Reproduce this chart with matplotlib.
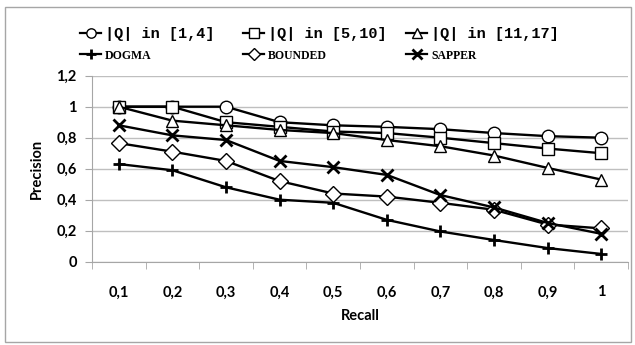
import matplotlib
matplotlib.use("Agg")
import matplotlib.pyplot as plt
from matplotlib.patches import Rectangle
from matplotlib.ticker import FixedLocator, FuncFormatter

recall = ["0,1", "0,2", "0,3", "0,4", "0,5", "0,6", "0,7", "0,8", "0,9", "1"]

q_1_4 = [1.0, 1.0, 1.0, 0.90, 0.88, 0.87, 0.855, 0.83, 0.81, 0.80]
q_5_10 = [1.0, 1.0, 0.90, 0.87, 0.84, 0.83, 0.80, 0.765, 0.73, 0.70]
q_11_17 = [1.0, 0.91, 0.88, 0.85, 0.83, 0.785, 0.745, 0.685, 0.605, 0.53]
dogma = [0.63, 0.59, 0.48, 0.40, 0.38, 0.27, 0.195, 0.14, 0.088, 0.05]
bounded = [0.765, 0.71, 0.65, 0.52, 0.44, 0.42, 0.38, 0.335, 0.24, 0.215]
sapper = [0.88, 0.815, 0.785, 0.65, 0.61, 0.56, 0.43, 0.35, 0.25, 0.18]

series = [
    ("|Q| in [1,4]", q_1_4, "o"),
    ("|Q| in [5,10]", q_5_10, "s"),
    ("|Q| in [11,17]", q_11_17, "^"),
    ("DOGMA", dogma, "+"),
    ("BOUNDED", bounded, "D"),
    ("SAPPER", sapper, "x"),
]

fig = plt.figure(figsize=(6.35, 3.45), dpi=100)
ax = fig.add_axes([92 / 635, 83.3 / 345, 536 / 635, 186 / 345])

# outer chart border (Excel style)
fig.patches.append(Rectangle((5 / 635, 3 / 345), 626 / 635, 335 / 345,
                             transform=fig.transFigure, fill=False,
                             edgecolor="#a6a6a6", linewidth=1.0))

x = list(range(len(recall)))
lines = {}
for name, vals, mk in series:
    ms = 8 if mk == "D" else 9
    ln, = ax.plot(x, vals, color="black", linewidth=1.7, marker=mk,
                  markersize=ms, markerfacecolor="white",
                  markeredgecolor="black",
                  markeredgewidth=2.0 if mk in ("+", "x") else 1.0,
                  zorder=3)
    lines[name] = ln

ax.set_xlim(-0.5, len(recall) - 0.5)
ax.set_ylim(0, 1.2)

ax.yaxis.set_major_locator(FixedLocator([0, 0.2, 0.4, 0.6, 0.8, 1.0, 1.2]))
ax.yaxis.set_major_formatter(FuncFormatter(
    lambda v, p: ("%g" % round(v, 1)).replace(".", ",")))
ax.grid(axis="y", color="#bfbfbf", linewidth=1.0)
ax.set_axisbelow(True)

ax.set_xticks(x)
ax.set_xticklabels(recall)
ax.set_xticks([i - 0.5 for i in range(len(recall) + 1)], minor=True)
ax.tick_params(axis="x", which="major", length=0, pad=17)
ax.tick_params(axis="x", which="minor", length=5, color="#a6a6a6", direction="out")
ax.tick_params(axis="y", length=5, color="#a6a6a6", pad=6)

for s in ["top", "right"]:
    ax.spines[s].set_visible(False)
for s in ["left", "bottom"]:
    ax.spines[s].set_color("#a6a6a6")

tick_font = dict(family="Lato", weight="bold", size=10.5)
for lab in ax.get_xticklabels() + ax.get_yticklabels():
    lab.set_fontfamily("Lato")
    lab.set_fontweight("bold")
    lab.set_fontsize(10.5)

ax.set_xlabel("Recall", fontdict=tick_font, labelpad=7)
ax.set_ylabel("Precision", fontdict=tick_font, labelpad=9)

# legend: three columns of two entries
cols = [("|Q| in [1,4]", "DOGMA", 80),
        ("|Q| in [5,10]", "BOUNDED", 243),
        ("|Q| in [11,17]", "SAPPER", 406)]
for top, bottom, px in cols:
    leg = fig.legend([lines[top], lines[bottom]], [top, bottom],
                     loc="upper left", bbox_to_anchor=(px / 635, 1 - 27 / 345),
                     frameon=False, handlelength=1.4, handletextpad=0.25,
                     borderaxespad=0, borderpad=0, labelspacing=0.5,
                     prop=dict(family="Liberation Mono", weight="bold", size=11),
                     markerscale=0.75)
    t1, t2 = leg.get_texts()
    t2.set_fontfamily("Liberation Serif")
    t2.set_fontsize(8.5)
    for h in leg.legend_handles:
        h.set_linewidth(1.6)

fig.savefig("out.png", dpi=100)
